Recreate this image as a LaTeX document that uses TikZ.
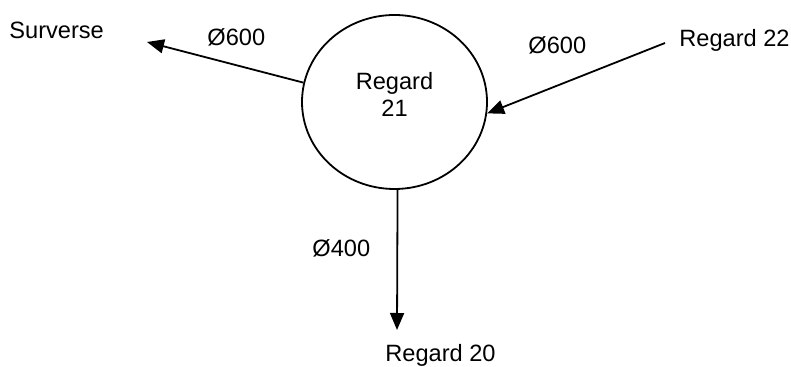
\documentclass[tikz,border=0pt]{standalone}
\usepackage{fontspec}
\setmainfont{Liberation Sans}
\usetikzlibrary{shapes.geometric,arrows.meta}
\tikzset{
  label/.style={inner sep=0pt, anchor=base west, font=\fontsize{11.8}{13.5}\selectfont},
  pipe/.style={line width=0.9pt, -{Triangle[length=8.5pt,width=7pt]}}
}
\begin{document}
\begin{tikzpicture}[x=0.5pt,y=-0.5pt]
	  \useasboundingbox (0,0) rectangle (791,367);
	  \node[ellipse, draw, line width=0.9pt, minimum width=92.5pt, minimum height=87pt, align=center, inner sep=0pt, text depth=8pt, font=\fontsize{11.8}{13.5}\selectfont] (r21) at (394.5,102) {Regard\\21};
	  
	  \node[label] (sv) at (9,39) {Surverse};
	  \node[label] (r22) at (679,47) {Regard 22};
	  \node[label] (r20) at (385,362) {Regard 20};
	  \node[label] (d1) at (207,46) {Ø600};
	  \node[label] (d2) at (528,54) {Ø600};
	  \node[label] (d3) at (312,257) {Ø400};
	  
	  \coordinate (svEnd) at (147,42);
	  \coordinate (r22Start) at (665,43);
	  \coordinate (r20End) at (397,330);
	  
	  \draw[pipe] (r21.168) -- (svEnd);
	  \draw[pipe] (r22Start) -- (r21.-7);
	  \draw[pipe] (r21.-88) -- (r20End);
	\end{tikzpicture}
\end{document}
